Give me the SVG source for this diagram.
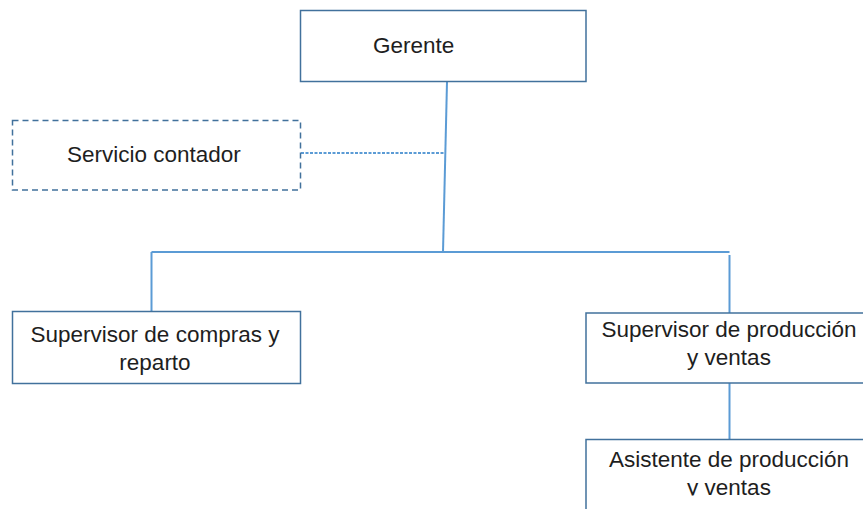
<svg xmlns="http://www.w3.org/2000/svg" width="863" height="509" viewBox="0 0 863 509">
<style>
.box{fill:#fff;stroke:#41719c;stroke-width:1.5}
.dash{fill:#fff;stroke:#41719c;stroke-width:1.5;stroke-dasharray:6 4}
.con{fill:none;stroke:#5b9bd5;stroke-width:2}
.dot{fill:none;stroke:#5b9bd5;stroke-width:2;stroke-dasharray:3 1.5}
text{font-family:"Liberation Sans",Arial,sans-serif;font-size:22.5px;fill:#1e1e1e}
.c{text-anchor:middle}
</style>
<defs>
<clipPath id="clipBottom"><rect x="0" y="0" width="863" height="495.5"/></clipPath>
</defs>
<rect width="863" height="509" fill="#fff"/>
<g id="connectors">
<line class="con" x1="447" y1="82" x2="443" y2="252"/>
<line class="dot" x1="301" y1="153" x2="445" y2="153"/>
<line class="con" x1="151.5" y1="252" x2="729.5" y2="252"/>
<line class="con" x1="151.5" y1="252" x2="151.5" y2="311"/>
<line class="con" x1="729.5" y1="255" x2="729.5" y2="313"/>
<line class="con" x1="729.5" y1="383" x2="729.5" y2="439"/>
</g>
<g id="gerente">
<rect class="box" x="300.5" y="10.5" width="285.5" height="71"/>
<text x="373" y="53">Gerente</text>
</g>
<g id="servicio-contador">
<rect class="dash" x="12.5" y="120.5" width="288" height="69.5"/>
<text x="67" y="161.5">Servicio contador</text>
</g>
<g id="supervisor-compras">
<rect class="box" x="12.5" y="311.5" width="288" height="72"/>
<text class="c" x="155" y="342.3">Supervisor de compras y</text>
<text class="c" x="155" y="370">reparto</text>
</g>
<g id="supervisor-produccion">
<rect class="box" x="586" y="313" width="290" height="70"/>
<text class="c" x="729" y="336.7">Supervisor de producción</text>
<text class="c" x="729" y="365">y ventas</text>
</g>
<g id="asistente-produccion">
<rect class="box" x="586" y="439.5" width="290" height="90"/>
<g clip-path="url(#clipBottom)">
<text class="c" x="729" y="467">Asistente de producción</text>
<text class="c" x="729" y="495">y ventas</text>
</g>
</g>
</svg>
